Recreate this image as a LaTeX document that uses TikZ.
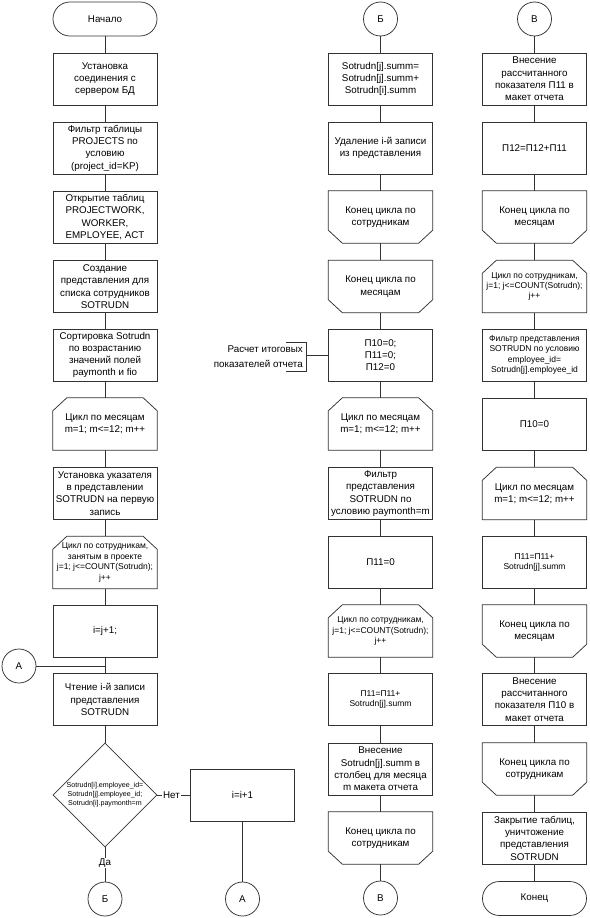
\documentclass[tikz,border=0pt]{standalone}
\usepackage{fontspec}
\setmainfont{Liberation Sans}
\usetikzlibrary{shapes.geometric}

\tikzset{
  ln/.style={draw=black!80, line width=0.75pt},
  base/.style={minimum width=104pt, minimum height=52pt, inner sep=1pt, align=center, font=\fontsize{9.8}{12.3}\selectfont},
  proc/.style={base, rectangle, ln},
  small/.style={font=\fontsize{8.5}{10.4}\selectfont},
  term/.style={ln, rectangle, rounded corners=16.9pt, minimum width=104pt, minimum height=34pt, inner sep=1pt, font=\fontsize{9.8}{12.3}\selectfont},
  conn/.style={ln, circle, minimum size=34pt, inner sep=0pt, font=\fontsize{9.8}{12.3}\selectfont},
  dia/.style={ln, diamond, aspect=1, minimum width=104pt, minimum height=104pt, inner sep=0pt},
  lbl/.style={fill=white, inner sep=1pt, font=\fontsize{9.8}{12.3}\selectfont},
  annot/.style={align=right, inner sep=0pt, font=\fontsize{9.8}{15}\selectfont}
}

% loop start: top corners cut
\newcommand\LoopStart[5][]{%
  \node[base, #1] (#2) at (#3,#4) {#5};
  \draw[ln] ([xshift=14pt]#2.north west) -- ([xshift=-14pt]#2.north east)
    -- ([yshift=-13pt]#2.north east) -- (#2.south east) -- (#2.south west)
    -- ([yshift=-13pt]#2.north west) -- cycle;
}
% loop end: bottom corners cut
\newcommand\LoopEnd[5][]{%
  \node[base, #1] (#2) at (#3,#4) {#5};
  \draw[ln] (#2.north west) -- (#2.north east)
    -- ([yshift=13pt]#2.south east) -- ([xshift=-14pt]#2.south east)
    -- ([xshift=14pt]#2.south west) -- ([yshift=13pt]#2.south west) -- cycle;
}

\begin{document}
\begin{tikzpicture}[x=1pt, y=-1pt]
\useasboundingbox (0,0) rectangle (589,918);

% ---------------- column 1 ----------------
\node[term] (c1r0) at (105,19) {Начало};
\node[proc] (c1r1) at (105,79) {Установка\\соединения с\\сервером БД};
\node[proc] (c1r2) at (105,148) {Фильтр таблицы\\PROJECTS по\\условию\\(project\_id=KP)};
\node[proc] (c1r3) at (105,217) {Открытие таблиц\\PROJECTWORK,\\WORKER,\\EMPLOYEE, ACT};
\node[proc] (c1r4) at (105,286.5) {Создание\\представления для\\списка сотрудников\\SOTRUDN};
\node[proc] (c1r5) at (105,355) {Сортировка Sotrudn\\по возрастанию\\значений полей\\paymonth и fio};
\LoopStart{c1r6}{105}{424}{Цикл по месяцам\\m=1; m<=12; m++}
\node[proc] (c1r7) at (105,493.5) {Установка указателя\\в представлении\\SOTRUDN на первую\\запись};
\LoopStart[small]{c1r8}{105}{562.5}{Цикл по сотрудникам,\\занятым в проекте\\j=1; j<=COUNT(Sotrudn);\\j++}
\node[proc] (c1r9) at (105,631) {i=j+1;};
\node[proc] (c1r10) at (105,699.5) {Чтение i-й записи\\представления\\SOTRUDN};
\node[dia, label={[align=center, inner sep=0pt, font=\fontsize{7.1}{9}\selectfont]center:Sotrudn[i].employee\_id=\\Sotrudn[j].employee\_id;\\Sotrudn[i].paymonth=m}] (dec) at (105,795) {};
\node[proc] (inc) at (242.5,795) {i=i+1};
\node[conn] (b1) at (105,899) {Б};
\node[conn] (a2) at (242.5,899) {А};
\node[conn] (a1) at (19,666) {А};

\draw[ln] (c1r0) -- (c1r1);
\draw[ln] (c1r1) -- (c1r2);
\draw[ln] (c1r2) -- (c1r3);
\draw[ln] (c1r3) -- (c1r4);
\draw[ln] (c1r4) -- (c1r5);
\draw[ln] (c1r5) -- (c1r6);
\draw[ln] (c1r6) -- (c1r7);
\draw[ln] (c1r7) -- (c1r8);
\draw[ln] (c1r8) -- (c1r9);
\draw[ln] (c1r9) -- (c1r10);
\draw[ln] (a1.east) -- (a1.east -| c1r10.north);
\draw[ln] (c1r10) -- (dec.north);
\draw[ln] (dec.east) -- node[lbl, pos=0.43] {Нет} (inc.west);
\draw[ln] (dec.south) -- node[lbl, pos=0.46] {Да} (b1.north);
\draw[ln] (inc) -- (a2);

% ---------------- column 2 ----------------
\node[conn] (b2) at (380.5,19) {Б};
\node[proc] (c2r1) at (380.5,79) {Sotrudn[j].summ=\\Sotrudn[j].summ+\\Sotrudn[i].summ};
\node[proc] (c2r2) at (380.5,148) {Удаление i-й записи\\из представления};
\LoopEnd{c2r3}{380.5}{217}{Конец цикла по\\сотрудникам}
\LoopEnd{c2r4}{380.5}{286.5}{Конец цикла по\\месяцам}
\node[proc] (c2r5) at (380.5,355) {П10=0;\\П11=0;\\П12=0};
\LoopStart{c2r6}{380.5}{424}{Цикл по месяцам\\m=1; m<=12; m++}
\node[proc] (c2r7) at (380.5,493.5) {Фильтр\\представления\\SOTRUDN по\\условию paymonth=m};
\node[proc] (c2r8) at (380.5,562.5) {П11=0};
\LoopStart[small]{c2r9}{380.5}{631}{Цикл по сотрудникам,\\j=1; j<=COUNT(Sotrudn);\\j++}
\node[proc, small] (c2r10) at (380.5,699.5) {П11=П11+\\Sotrudn[j].summ};
\node[proc] (c2r11) at (380.5,769) {Внесение\\Sotrudn[j].summ в\\столбец для месяца\\m макета отчета};
\LoopEnd{c2r12}{380.5}{838}{Конец цикла по\\сотрудникам}
\node[conn] (v2) at (380.5,898) {В};

\draw[ln] (b2) -- (c2r1);
\draw[ln] (c2r1) -- (c2r2);
\draw[ln] (c2r2) -- (c2r3);
\draw[ln] (c2r3) -- (c2r4);
\draw[ln] (c2r4) -- (c2r5);
\draw[ln] (c2r5) -- (c2r6);
\draw[ln] (c2r6) -- (c2r7);
\draw[ln] (c2r7) -- (c2r8);
\draw[ln] (c2r8) -- (c2r9);
\draw[ln] (c2r9) -- (c2r10);
\draw[ln] (c2r10) -- (c2r11);
\draw[ln] (c2r11) -- (c2r12);
\draw[ln] (c2r12) -- (v2);

% annotation
\node[annot, anchor=east] (ann) at (303,357) {Расчет итоговых\\показателей отчета};
\coordinate (brT) at (306,342);
\coordinate (brB) at (306,371);
\coordinate (brM) at (306,355);
\draw[ln] ([xshift=-20pt]brT) -- (brT) -- (brB) -- ([xshift=-20pt]brB);
\draw[ln] (brM) -- (c2r5.west);

% ---------------- column 3 ----------------
\node[conn] (v3) at (534.5,19) {В};
\node[proc] (c3r1) at (534.5,79) {Внесение\\рассчитанного\\показателя П11 в\\макет отчета};
\node[proc] (c3r2) at (534.5,148) {П12=П12+П11};
\LoopEnd{c3r3}{534.5}{217}{Конец цикла по\\месяцам}
\LoopStart[small]{c3r4}{534.5}{286.5}{Цикл по сотрудникам,\\j=1; j<=COUNT(Sotrudn);\\j++}
\node[proc, small] (c3r5) at (534.5,355) {Фильтр представления\\SOTRUDN по условию\\employee\_id=\\Sotrudn[j].employee\_id};
\node[proc] (c3r6) at (534.5,424) {П10=0};
\LoopStart{c3r7}{534.5}{493.5}{Цикл по месяцам\\m=1; m<=12; m++}
\node[proc, small] (c3r8) at (534.5,562.5) {П11=П11+\\Sotrudn[j].summ};
\LoopEnd{c3r9}{534.5}{631}{Конец цикла по\\месяцам}
\node[proc] (c3r10) at (534.5,699.5) {Внесение\\рассчитанного\\показателя П10 в\\макет отчета};
\LoopEnd{c3r11}{534.5}{769}{Конец цикла по\\сотрудникам}
\node[proc] (c3r12) at (534.5,838) {Закрытие таблиц,\\уничтожение\\представления\\SOTRUDN};
\node[term] (c3r13) at (534.5,898.5) {Конец};

\draw[ln] (v3) -- (c3r1);
\draw[ln] (c3r1) -- (c3r2);
\draw[ln] (c3r2) -- (c3r3);
\draw[ln] (c3r3) -- (c3r4);
\draw[ln] (c3r4) -- (c3r5);
\draw[ln] (c3r5) -- (c3r6);
\draw[ln] (c3r6) -- (c3r7);
\draw[ln] (c3r7) -- (c3r8);
\draw[ln] (c3r8) -- (c3r9);
\draw[ln] (c3r9) -- (c3r10);
\draw[ln] (c3r10) -- (c3r11);
\draw[ln] (c3r11) -- (c3r12);
\draw[ln] (c3r12) -- (c3r13);
\end{tikzpicture}
\end{document}
